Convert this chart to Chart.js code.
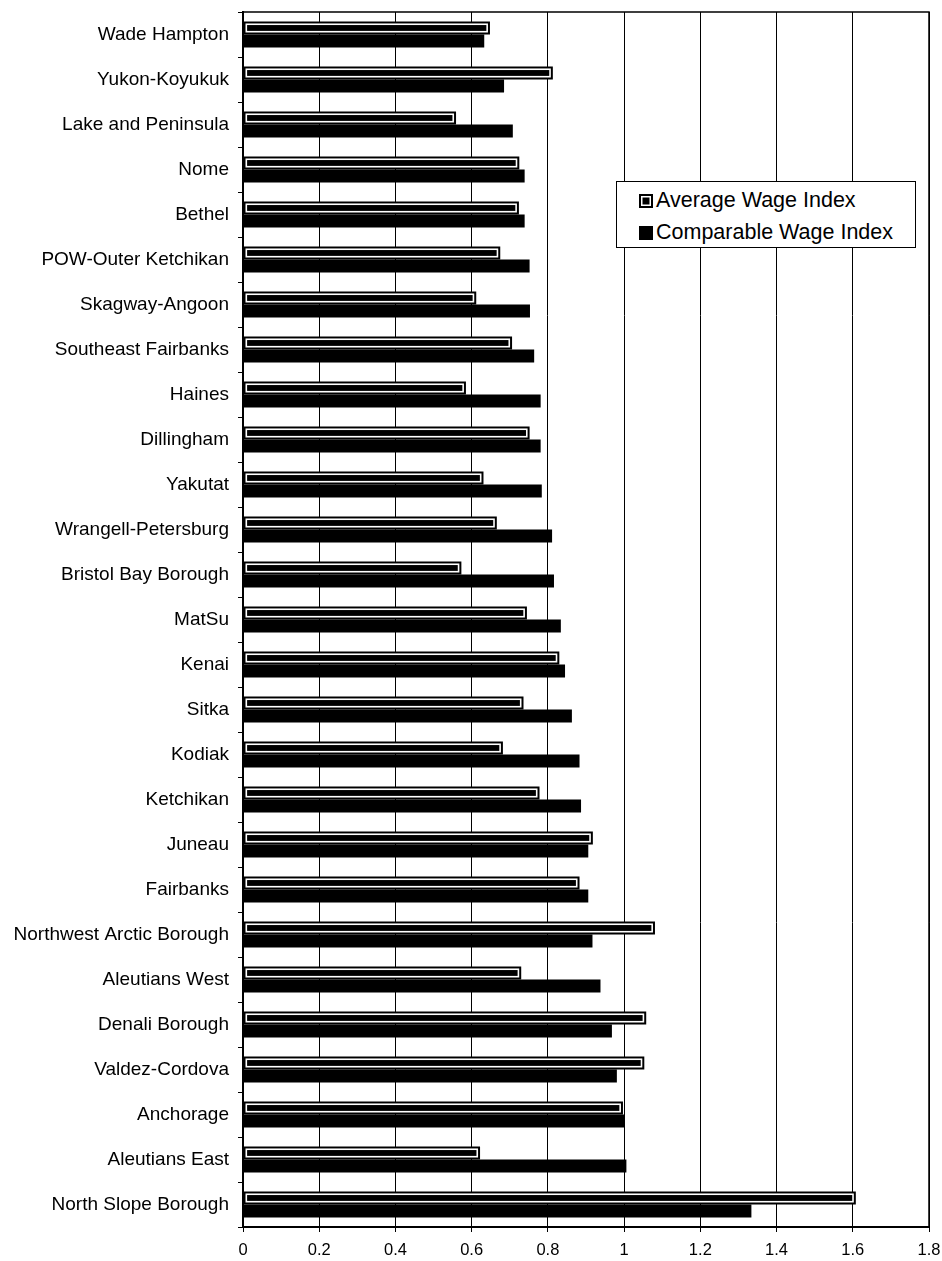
<!DOCTYPE html>
<html>
<head>
<meta charset="utf-8">
<script src="https://cdn.jsdelivr.net/npm/chart.js@4.4.1/dist/chart.umd.min.js"></script>
<style>
  html, body { margin: 0; padding: 0; background: #fff; }
  #wrap { position: relative; width: 942px; height: 1261px; }
  #legend {
    position: absolute; left: 616px; top: 181px; width: 300px; height: 67px;
    box-sizing: border-box; border: 1px solid #000; background: #fff;
    font-family: "Liberation Sans", Arial, sans-serif; font-size: 21.5px; color: #000;
    padding: 5px 0 0 22px;
  }
  .item { display: flex; align-items: center; height: 27px; margin-bottom: 5px; white-space: nowrap; }
  .sym { display: inline-block; width: 14px; height: 14px; margin-right: 3px; background: #000; box-sizing: border-box; }
  .sym.hollow { box-shadow: inset 0 0 0 2px #000, inset 0 0 0 3.5px #fff; }
</style>
</head>
<body>
<div id="wrap">
  <canvas id="c" width="942" height="1261"></canvas>
  <div id="legend"></div>
</div>
<script>
const categories = [
  'Wade Hampton', 'Yukon-Koyukuk', 'Lake and Peninsula', 'Nome', 'Bethel',
  'POW-Outer Ketchikan', 'Skagway-Angoon', 'Southeast Fairbanks', 'Haines',
  'Dillingham', 'Yakutat', 'Wrangell-Petersburg', 'Bristol Bay Borough', 'MatSu',
  'Kenai', 'Sitka', 'Kodiak', 'Ketchikan', 'Juneau', 'Fairbanks',
  'Northwest Arctic Borough', 'Aleutians West', 'Denali Borough', 'Valdez-Cordova',
  'Anchorage', 'Aleutians East', 'North Slope Borough'
];
const averageWageIndex = [
  0.648, 0.813, 0.559, 0.725, 0.724, 0.675, 0.612, 0.706, 0.585,
  0.752, 0.631, 0.666, 0.573, 0.745, 0.830, 0.736, 0.682, 0.778,
  0.918, 0.883, 1.081, 0.730, 1.058, 1.053, 0.997, 0.622, 1.608
];
const comparableWageIndex = [
  0.633, 0.685, 0.708, 0.739, 0.739, 0.752, 0.753, 0.764, 0.781,
  0.781, 0.784, 0.811, 0.816, 0.834, 0.845, 0.863, 0.883, 0.887,
  0.906, 0.906, 0.917, 0.938, 0.968, 0.981, 1.000, 1.006, 1.334
];
const seriesNames = ['Average Wage Index', 'Comparable Wage Index'];
const xTickLabels = ['0', '0.2', '0.4', '0.6', '0.8', '1', '1.2', '1.4', '1.6', '1.8'];

const FONT = '"Liberation Sans", Arial, sans-serif';

const hollowBarPlugin = {
  id: 'hollowBar',
  afterDatasetsDraw(chart) {
    const meta = chart.getDatasetMeta(0);
    const ctx = chart.ctx;
    ctx.save();
    ctx.strokeStyle = '#fff';
    ctx.lineWidth = 1.6;
    meta.data.forEach(el => {
      const p = el.getProps(['x', 'y', 'base', 'height'], true);
      const l = Math.min(p.base, p.x), r = Math.max(p.base, p.x);
      const t = p.y - p.height / 2;
      ctx.strokeRect(l + 2.8, t + 2.8, r - l - 5.6, p.height - 5.6);
    });
    ctx.restore();
  }
};

const framePlugin = {
  id: 'frame',
  afterDraw(chart) {
    const a = chart.chartArea, ctx = chart.ctx;
    ctx.save();
    ctx.strokeStyle = '#000';
    ctx.lineWidth = 1.5;
    ctx.beginPath();
    ctx.moveTo(a.left, a.top);
    ctx.lineTo(a.right, a.top);
    ctx.lineTo(a.right, a.bottom);
    ctx.stroke();
    ctx.restore();
  }
};

const chart = new Chart(document.getElementById('c'), {
  type: 'bar',
  data: {
    labels: categories,
    datasets: [
      { label: seriesNames[0], data: averageWageIndex, backgroundColor: '#000', borderWidth: 0,
        categoryPercentage: 0.58, barPercentage: 1.0 },
      { label: seriesNames[1], data: comparableWageIndex, backgroundColor: '#000', borderWidth: 0,
        categoryPercentage: 0.58, barPercentage: 1.0 }
    ]
  },
  options: {
    indexAxis: 'y',
    responsive: false,
    animation: false,
    devicePixelRatio: 1,
    layout: { padding: { left: 0, right: 13, top: 12, bottom: 0 } },
    plugins: { legend: { display: false }, tooltip: { enabled: false } },
    scales: {
      x: {
        min: 0, max: 1.8,
        ticks: {
          stepSize: 0.2, color: '#000', padding: 9,
          font: { family: FONT, size: 16.5 },
          callback: (v, i) => xTickLabels[i]
        },
        grid: { color: '#000', lineWidth: 1, tickLength: 5, drawTicks: true },
        border: { color: '#000', width: 2 },
        afterFit: s => { s.height = 34; s.paddingLeft = 0; s.paddingRight = 0; }
      },
      y: {
        ticks: {
          color: '#000', padding: 9, autoSkip: false,
          font: { family: FONT, size: 19 }
        },
        grid: { offset: true, drawOnChartArea: false, color: '#000', tickLength: 5, lineWidth: 1 },
        border: { color: '#000', width: 2 },
        afterFit: s => { s.width = 243; s.paddingTop = 0; s.paddingBottom = 0; }
      }
    }
  },
  plugins: [hollowBarPlugin, framePlugin]
});

// HTML legend built from chart datasets
const legend = document.getElementById('legend');
chart.data.datasets.forEach((ds, i) => {
  const item = document.createElement('div');
  item.className = 'item';
  const sym = document.createElement('span');
  sym.className = 'sym' + (i === 0 ? ' hollow' : '');
  const txt = document.createElement('span');
  txt.textContent = ds.label;
  item.appendChild(sym);
  item.appendChild(txt);
  legend.appendChild(item);
});
</script>
</body>
</html>
